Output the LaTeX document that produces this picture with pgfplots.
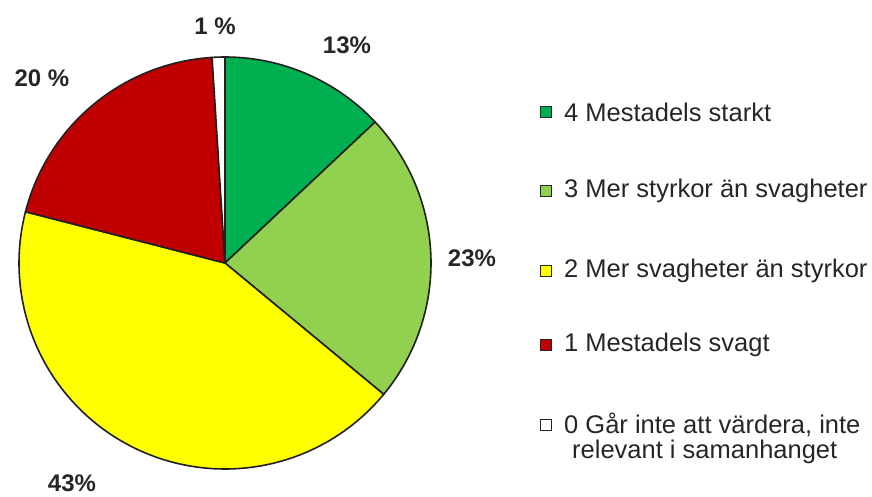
\documentclass[border=0pt]{standalone}
\usepackage{pgfplots}
\pgfplotsset{compat=1.18}
\usepackage{fontspec}
\setmainfont{Liberation Sans}
\definecolor{cFour}{HTML}{00B050}
\definecolor{cThree}{HTML}{92D050}
\definecolor{cTwo}{HTML}{FFFF00}
\definecolor{cOne}{HTML}{C00000}
\definecolor{cZero}{HTML}{FFFFFF}
\definecolor{edge}{HTML}{202020}
% shares in percent
\def\pFour{13}
\def\pThree{23}
\def\pTwo{43}
\def\pOne{20}
\def\pZero{1}
\pgfmathsetmacro\aS{90}
\pgfmathsetmacro\aFour{\aS-3.6*\pFour}
\pgfmathsetmacro\aThree{\aFour-3.6*\pThree}
\pgfmathsetmacro\aTwo{\aThree-3.6*\pTwo}
\pgfmathsetmacro\aOne{\aTwo-3.6*\pOne}
\pgfmathsetmacro\aZero{\aOne-3.6*\pZero}
\def\cx{225}
\def\cy{263}
\def\rr{206}
\begin{document}
\begin{tikzpicture}
\begin{axis}[
  width=872pt, height=497pt, scale only axis,
  xmin=0, xmax=872, ymin=0, ymax=497, y dir=reverse,
  hide axis, clip=false,
]
\addplot[fill=cFour, draw=edge, line width=1.6pt, line join=round, domain=\aFour:\aS, samples=80]
  ({\cx+\rr*cos(x)},{\cy-\rr*sin(x)}) -- (axis cs:\cx,\cy) -- cycle;
\addplot[fill=cThree, draw=edge, line width=1.6pt, line join=round, domain=\aThree:\aFour, samples=80]
  ({\cx+\rr*cos(x)},{\cy-\rr*sin(x)}) -- (axis cs:\cx,\cy) -- cycle;
\addplot[fill=cTwo, draw=edge, line width=1.6pt, line join=round, domain=\aTwo:\aThree, samples=120]
  ({\cx+\rr*cos(x)},{\cy-\rr*sin(x)}) -- (axis cs:\cx,\cy) -- cycle;
\addplot[fill=cOne, draw=edge, line width=1.6pt, line join=round, domain=\aOne:\aTwo, samples=80]
  ({\cx+\rr*cos(x)},{\cy-\rr*sin(x)}) -- (axis cs:\cx,\cy) -- cycle;
\addplot[fill=cZero, draw=edge, line width=1.6pt, line join=round, domain=\aZero:\aOne, samples=10]
  ({\cx+\rr*cos(x)},{\cy-\rr*sin(x)}) -- (axis cs:\cx,\cy) -- cycle;

% slice labels
\begin{scope}[font=\fontsize{24}{28}\selectfont\bfseries, text=black!85]
\node at (axis cs:215,26) {1 \%};
\node at (axis cs:347,45) {13\%};
\node at (axis cs:42,78) {20 \%};
\node at (axis cs:472,258) {23\%};
\node at (axis cs:72,483) {43\%};
\end{scope}

% legend markers
\addplot[only marks, mark=square*, mark size=5.3pt, mark options={fill=cFour, draw=black!85, line width=1.2pt}] coordinates {(546,112)};
\addplot[only marks, mark=square*, mark size=5.3pt, mark options={fill=cThree, draw=black!85, line width=1.2pt}] coordinates {(546,191)};
\addplot[only marks, mark=square*, mark size=5.3pt, mark options={fill=cTwo, draw=black!85, line width=1.2pt}] coordinates {(546,271)};
\addplot[only marks, mark=square*, mark size=5.3pt, mark options={fill=cOne, draw=black!85, line width=1.2pt}] coordinates {(546,345)};
\addplot[only marks, mark=square*, mark size=5.3pt, mark options={fill=cZero, draw=black!85, line width=1.2pt}] coordinates {(546,425)};

\begin{scope}[font=\fontsize{25.5}{29}\selectfont, text=black!85, inner sep=0pt]
\node[anchor=west] at (axis cs:564,112) {4 Mestadels starkt};
\node[anchor=west] at (axis cs:564,191) {3 Mer styrkor än svagheter};
\node[anchor=west] at (axis cs:564,271) {2 Mer svagheter än styrkor};
\node[anchor=west] at (axis cs:564,345) {1 Mestadels svagt};
\node[anchor=west] at (axis cs:564,425) {0 Går inte att värdera, inte};
\node[anchor=west] at (axis cs:572,452) {relevant i samanhanget};
\end{scope}
\end{axis}
\pgfresetboundingbox
\path (0,0) rectangle (872pt,497pt);
\end{tikzpicture}
\end{document}
